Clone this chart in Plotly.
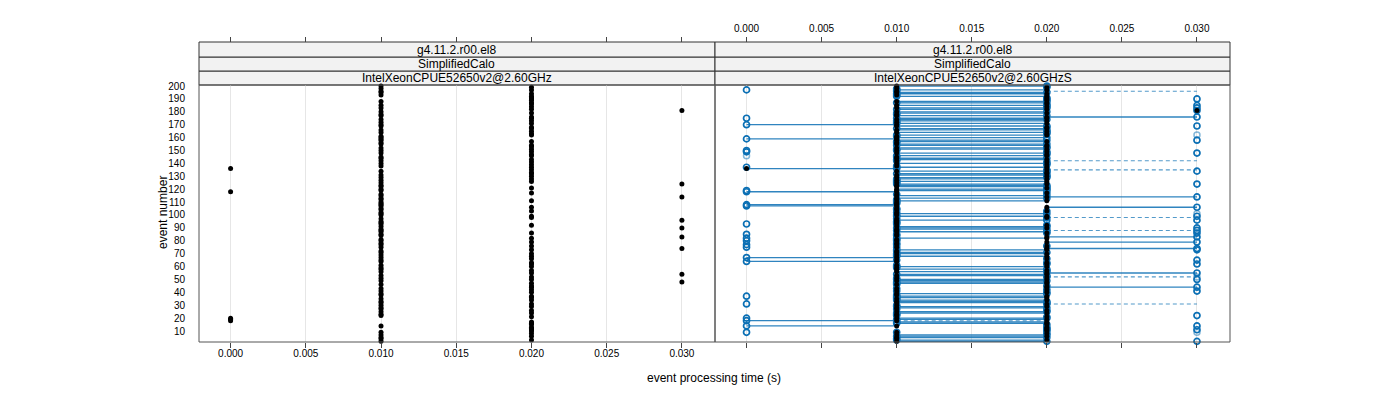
import plotly.graph_objects as go

# ---------------- data ----------------
events = list(range(1, 201))

# left panel run (black dots)
left_time = [
    0.00, 0.01, 0.02, 0.01, 0.01, 0.02, 0.01, 0.02, 0.01, 0.02,   # 1-10
    0.02, 0.02, 0.02, 0.01, 0.02, 0.02, 0.02, 0.00, 0.00, 0.00,   # 11-20
    0.02, 0.01, 0.01, 0.02, 0.01, 0.02, 0.01, 0.01, 0.02, 0.01,   # 21-30
    0.02, 0.01, 0.01, 0.02, 0.01, 0.02, 0.02, 0.01, 0.01, 0.02,   # 31-40
    0.01, 0.02, 0.01, 0.02, 0.02, 0.01, 0.02, 0.03, 0.01, 0.02,   # 41-50
    0.01, 0.02, 0.01, 0.03, 0.02, 0.01, 0.02, 0.01, 0.01, 0.02,   # 51-60
    0.01, 0.02, 0.02, 0.01, 0.01, 0.02, 0.01, 0.02, 0.01, 0.02,   # 61-70
    0.01, 0.01, 0.02, 0.03, 0.01, 0.02, 0.01, 0.01, 0.02, 0.01,   # 71-80
    0.01, 0.02, 0.03, 0.01, 0.01, 0.02, 0.01, 0.01, 0.01, 0.03,   # 81-90
    0.01, 0.02, 0.01, 0.01, 0.01, 0.03, 0.01, 0.02, 0.02, 0.01,   # 91-100
    0.01, 0.01, 0.02, 0.01, 0.01, 0.02, 0.01, 0.01, 0.01, 0.01,   # 101-110
    0.02, 0.01, 0.01, 0.03, 0.01, 0.01, 0.02, 0.00, 0.01, 0.01,   # 111-120
    0.02, 0.01, 0.01, 0.03, 0.01, 0.02, 0.01, 0.02, 0.01, 0.02,   # 121-130
    0.01, 0.02, 0.02, 0.01, 0.02, 0.00, 0.02, 0.01, 0.02, 0.01,   # 131-140
    0.02, 0.01, 0.02, 0.01, 0.01, 0.02, 0.02, 0.01, 0.02, 0.01,   # 141-150
    0.02, 0.01, 0.02, 0.02, 0.01, 0.01, 0.02, 0.01, 0.01, 0.01,   # 151-160
    0.01, 0.02, 0.02, 0.01, 0.02, 0.01, 0.02, 0.02, 0.01, 0.01,   # 161-170
    0.02, 0.01, 0.02, 0.01, 0.02, 0.02, 0.01, 0.01, 0.02, 0.01,   # 171-180
    0.03, 0.02, 0.01, 0.02, 0.01, 0.02, 0.02, 0.01, 0.02, 0.02,   # 181-190
    0.02, 0.02, 0.01, 0.02, 0.01, 0.01, 0.02, 0.01, 0.02, 0.01,   # 191-200
]

# right panel: reference run (black dots)
right_ref_time = [
    0.00, 0.01, 0.02, 0.01, 0.01, 0.02, 0.01, 0.02, 0.01, 0.02,   # 1-10
    0.02, 0.02, 0.02, 0.01, 0.02, 0.02, 0.02, 0.01, 0.02, 0.01,   # 11-20
    0.02, 0.01, 0.01, 0.02, 0.01, 0.02, 0.01, 0.01, 0.02, 0.01,   # 21-30
    0.02, 0.01, 0.01, 0.02, 0.01, 0.02, 0.02, 0.01, 0.01, 0.02,   # 31-40
    0.01, 0.02, 0.01, 0.02, 0.02, 0.01, 0.02, 0.02, 0.01, 0.02,   # 41-50
    0.01, 0.02, 0.01, 0.02, 0.02, 0.01, 0.02, 0.01, 0.01, 0.02,   # 51-60
    0.01, 0.02, 0.02, 0.01, 0.01, 0.02, 0.01, 0.02, 0.01, 0.02,   # 61-70
    0.01, 0.01, 0.02, 0.02, 0.01, 0.02, 0.01, 0.01, 0.02, 0.01,   # 71-80
    0.01, 0.02, 0.02, 0.01, 0.01, 0.02, 0.01, 0.01, 0.01, 0.02,   # 81-90
    0.01, 0.02, 0.01, 0.01, 0.01, 0.01, 0.01, 0.02, 0.02, 0.01,   # 91-100
    0.01, 0.01, 0.02, 0.01, 0.01, 0.02, 0.01, 0.01, 0.01, 0.01,   # 101-110
    0.02, 0.01, 0.01, 0.02, 0.01, 0.01, 0.02, 0.01, 0.01, 0.01,   # 111-120
    0.02, 0.01, 0.01, 0.02, 0.01, 0.02, 0.01, 0.02, 0.01, 0.02,   # 121-130
    0.01, 0.02, 0.02, 0.01, 0.02, 0.00, 0.02, 0.01, 0.02, 0.01,   # 131-140
    0.02, 0.01, 0.02, 0.01, 0.01, 0.02, 0.02, 0.01, 0.02, 0.01,   # 141-150
    0.02, 0.01, 0.02, 0.02, 0.01, 0.01, 0.02, 0.01, 0.01, 0.01,   # 151-160
    0.01, 0.02, 0.02, 0.01, 0.02, 0.01, 0.02, 0.02, 0.01, 0.01,   # 161-170
    0.02, 0.01, 0.02, 0.01, 0.02, 0.02, 0.01, 0.01, 0.02, 0.01,   # 171-180
    0.03, 0.02, 0.01, 0.02, 0.01, 0.02, 0.02, 0.01, 0.02, 0.02,   # 181-190
    0.02, 0.02, 0.01, 0.02, 0.01, 0.01, 0.02, 0.01, 0.02, 0.01,   # 191-200
]

# right panel: "S" run (blue open circles; solid segment to the reference value)
right_new_time = [
    0.01, 0.02, 0.01, 0.01, 0.02, 0.01, 0.02, 0.02, 0.01, 0.02,   # 1-10
    0.02, 0.02, 0.02, 0.00, 0.02, 0.01, 0.01, 0.00, 0.01, 0.02,   # 11-20
    0.02, 0.01, 0.01, 0.01, 0.02, 0.02, 0.01, 0.02, 0.01, 0.01,   # 21-30
    0.02, 0.02, 0.02, 0.01, 0.01, 0.01, 0.01, 0.01, 0.02, 0.02,   # 31-40
    0.01, 0.02, 0.01, 0.03, 0.02, 0.01, 0.01, 0.01, 0.02, 0.01,   # 41-50
    0.01, 0.02, 0.02, 0.01, 0.03, 0.02, 0.02, 0.02, 0.01, 0.01,   # 51-60
    0.01, 0.02, 0.02, 0.00, 0.01, 0.02, 0.00, 0.01, 0.01, 0.01,   # 61-70
    0.02, 0.01, 0.01, 0.03, 0.01, 0.02, 0.01, 0.01, 0.03, 0.01,   # 71-80
    0.01, 0.01, 0.03, 0.01, 0.01, 0.02, 0.02, 0.01, 0.02, 0.01,   # 81-90
    0.02, 0.02, 0.01, 0.01, 0.01, 0.02, 0.01, 0.02, 0.01, 0.01,   # 91-100
    0.02, 0.01, 0.02, 0.01, 0.01, 0.03, 0.00, 0.00, 0.01, 0.01,   # 101-110
    0.01, 0.01, 0.02, 0.03, 0.02, 0.01, 0.02, 0.00, 0.02, 0.02,   # 111-120
    0.02, 0.02, 0.02, 0.01, 0.01, 0.01, 0.01, 0.01, 0.02, 0.02,   # 121-130
    0.02, 0.01, 0.02, 0.02, 0.02, 0.01, 0.01, 0.01, 0.02, 0.02,   # 131-140
    0.02, 0.01, 0.01, 0.02, 0.01, 0.01, 0.02, 0.02, 0.02, 0.01,   # 141-150
    0.01, 0.02, 0.02, 0.01, 0.02, 0.01, 0.01, 0.02, 0.00, 0.02,   # 151-160
    0.01, 0.01, 0.02, 0.02, 0.02, 0.02, 0.01, 0.02, 0.02, 0.00,   # 161-170
    0.01, 0.01, 0.01, 0.02, 0.01, 0.03, 0.02, 0.01, 0.01, 0.02,   # 171-180
    0.03, 0.01, 0.02, 0.02, 0.02, 0.02, 0.01, 0.02, 0.02, 0.02,   # 181-190
    0.02, 0.01, 0.01, 0.01, 0.02, 0.01, 0.01, 0.01, 0.02, 0.02,   # 191-200
]

# further "S" repetitions: circles only
rep_events = [197, 175, 150, 149, 137, 119, 93, 85, 82, 80, 77, 75, 37, 31, 20, 9,
              190, 185, 183, 169, 158, 148, 134, 124, 99, 96, 90, 88, 86, 73, 65, 62, 50, 41, 22, 14, 11, 2]
rep_time = [0.00] * 16 + [0.03] * 22
light_events = [146, 162, 101, 52, 9]
light_time = [0.00, 0.03, 0.03, 0.03, 0.03]

# faster events (dashed segments)
dash_events = [196, 142, 135, 98, 88, 52, 31, 18]
dash_from = [0.02, 0.02, 0.02, 0.02, 0.02, 0.02, 0.02, 0.01]
dash_to = [0.03, 0.03, 0.03, 0.03, 0.03, 0.03, 0.03, 0.02]

x_ticks = [0.000, 0.005, 0.010, 0.015, 0.020, 0.025, 0.030]
y_ticks = list(range(10, 201, 10))
strip_rows = ["g4.11.2.r00.el8", "SimplifiedCalo"]
strip_cpu = ["IntelXeonCPUE52650v2@2.60GHz", "IntelXeonCPUE52650v2@2.60GHzS"]

# ---------------- figure ----------------
W, H = 1400, 400
FONT = "Liberation Sans, Arial, sans-serif"
BLUE = "#0a6fb4"

xl = [199 / W, 715 / W]
xr = [715 / W, 1230 / W]
yd = [(H - 342) / H, (H - 85) / H]
strip_edges = [85, 71, 57, 42]
top_pos = (H - 42) / H
xrange_ = [-0.0021, 0.0322]
yrange_ = [1.5, 200.8]

fig = go.Figure()

# left panel
fig.add_trace(go.Scatter(x=left_time, y=events, mode="markers", xaxis="x", yaxis="y",
                         marker=dict(color="black", size=5), cliponaxis=False,
                         showlegend=False, hoverinfo="skip"))

# right panel: solid segments
sx, sy = [], []
for e, r, n in zip(events, right_ref_time, right_new_time):
    if r != n:
        sx += [r, n, None]
        sy += [e, e, None]
fig.add_trace(go.Scatter(x=sx, y=sy, mode="lines", xaxis="x2", yaxis="y2",
                         line=dict(color="rgba(10,111,180,0.85)", width=1.3),
                         showlegend=False, hoverinfo="skip"))
dx, dy = [], []
for e, a, b in zip(dash_events, dash_from, dash_to):
    dx += [a, b, None]
    dy += [e, e, None]
fig.add_trace(go.Scatter(x=dx, y=dy, mode="lines", xaxis="x2", yaxis="y2",
                         line=dict(color="rgba(10,111,180,0.7)", width=1.1, dash="4px,3px"),
                         showlegend=False, hoverinfo="skip"))
fig.add_trace(go.Scatter(x=light_time, y=light_events, mode="markers", xaxis="x2", yaxis="y2",
                         marker=dict(symbol="circle-open", color="rgba(10,111,180,0.5)", size=6,
                                     line=dict(width=1.5)), cliponaxis=False,
                         showlegend=False, hoverinfo="skip"))
fig.add_trace(go.Scatter(x=rep_time, y=rep_events, mode="markers", xaxis="x2", yaxis="y2",
                         marker=dict(symbol="circle-open", color=BLUE, size=6,
                                     line=dict(width=1.7)), cliponaxis=False,
                         showlegend=False, hoverinfo="skip"))
fig.add_trace(go.Scatter(x=right_new_time, y=events, mode="markers", xaxis="x2", yaxis="y2",
                         marker=dict(symbol="circle-open", color=BLUE, size=6,
                                     line=dict(width=1.7)), cliponaxis=False,
                         showlegend=False, hoverinfo="skip"))
fig.add_trace(go.Scatter(x=right_ref_time, y=events, mode="markers", xaxis="x2", yaxis="y2",
                         marker=dict(color="black", size=5), cliponaxis=False,
                         showlegend=False, hoverinfo="skip"))
# dummy traces for the top axes
fig.add_trace(go.Scatter(x=[None], y=[None], xaxis="x3", yaxis="y", showlegend=False, hoverinfo="skip"))
fig.add_trace(go.Scatter(x=[None], y=[None], xaxis="x4", yaxis="y2", showlegend=False, hoverinfo="skip"))

tickfont = dict(family=FONT, size=10, color="black")
common_x = dict(range=xrange_, tickvals=x_ticks, tickformat=".3f", ticks="outside", ticklen=5,
                tickcolor="#444", tickfont=tickfont, showline=False, zeroline=False,
                fixedrange=True, automargin=False)

fig.update_layout(
    width=W, height=H, autosize=False,
    margin=dict(l=0, r=0, t=0, b=0, pad=0),
    paper_bgcolor="white", plot_bgcolor="white",
    font=dict(family=FONT, color="black"),
    xaxis=dict(domain=xl, anchor="y", showgrid=True, gridcolor="#e6e6e6", gridwidth=1,
               showticklabels=True, ticklabelstandoff=-3, **common_x),
    xaxis2=dict(domain=xr, anchor="y2", showgrid=True, gridcolor="#e6e6e6", gridwidth=1,
                showticklabels=False, **common_x),
    xaxis3=dict(overlaying="x", anchor="free", position=top_pos, side="top",
                showgrid=False, showticklabels=False, **common_x),
    xaxis4=dict(overlaying="x2", anchor="free", position=top_pos, side="top",
                showgrid=False, showticklabels=True, ticklabelstandoff=1, **common_x),
    yaxis=dict(domain=yd, anchor="x", range=yrange_, tickvals=y_ticks, ticks="outside",
               ticklen=11, tickcolor="rgba(0,0,0,0)", tickfont=tickfont, showgrid=False,
               zeroline=False, showline=False, fixedrange=True, automargin=False),
    yaxis2=dict(domain=yd, anchor="x2", range=yrange_, matches="y", showticklabels=False,
                ticks="", showgrid=False, zeroline=False, showline=False, fixedrange=True,
                automargin=False),
)

shapes = []
annotations = []
for (x0, x1), cpu in zip([xl, xr], strip_cpu):
    texts = [cpu, strip_rows[1], strip_rows[0]]
    for i in range(3):
        ya = (H - strip_edges[i]) / H
        yb = (H - strip_edges[i + 1]) / H
        shapes.append(dict(type="rect", xref="paper", yref="paper", x0=x0, x1=x1, y0=ya, y1=yb,
                           fillcolor="#f2f2f2", line=dict(color="#333", width=1), layer="below"))
        annotations.append(dict(xref="paper", yref="paper", x=(x0 + x1) / 2, y=(ya + yb) / 2,
                                text=texts[i], showarrow=False, xanchor="center", yanchor="middle",
                                font=dict(family=FONT, size=12, color="black")))
    shapes.append(dict(type="rect", xref="paper", yref="paper", x0=x0, x1=x1, y0=yd[0], y1=yd[1],
                       line=dict(color="#555", width=1), layer="above"))

annotations.append(dict(xref="paper", yref="paper", x=163 / W, y=(H - 213) / H, text="event number",
                        textangle=-90, showarrow=False, xanchor="center", yanchor="middle",
                        font=dict(family=FONT, size=12, color="black")))
annotations.append(dict(xref="paper", yref="paper", x=714 / W, y=(H - 378) / H,
                        text="event processing time (s)", showarrow=False, xanchor="center",
                        yanchor="middle", font=dict(family=FONT, size=12, color="black")))

fig.update_layout(shapes=shapes, annotations=annotations)
fig.write_html("out.html")
